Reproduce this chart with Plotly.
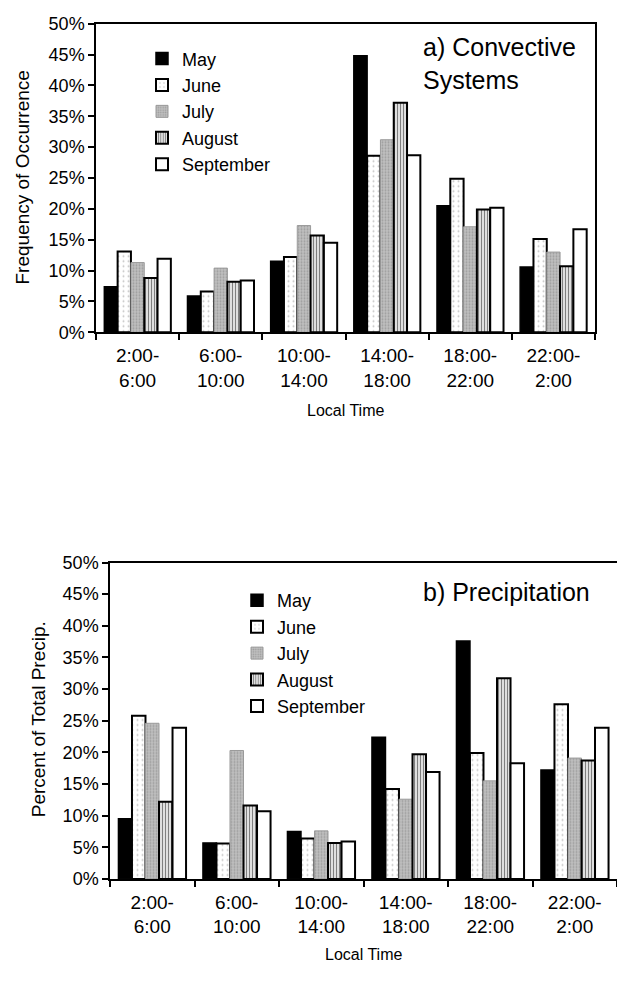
import plotly.graph_objects as go

categories = ["2:00-<br>6:00", "6:00-<br>10:00", "10:00-<br>14:00",
              "14:00-<br>18:00", "18:00-<br>22:00", "22:00-<br>2:00"]
months = ["May", "June", "July", "August", "September"]

# a) Convective systems: frequency of occurrence (%)
conv_may = [7.4, 5.9, 11.5, 44.8, 20.5, 10.6]
conv_jun = [13.1, 6.6, 12.2, 28.6, 24.9, 15.1]
conv_jul = [11.3, 10.4, 17.3, 31.2, 17.1, 13.0]
conv_aug = [8.8, 8.2, 15.7, 37.2, 19.9, 10.7]
conv_sep = [11.9, 8.4, 14.5, 28.7, 20.2, 16.7]

# b) Precipitation: percent of total precip (%)
prec_may = [9.5, 5.7, 7.5, 22.4, 37.6, 17.2]
prec_jun = [25.8, 5.6, 6.4, 14.2, 19.9, 27.6]
prec_jul = [24.6, 20.3, 7.6, 12.6, 15.5, 19.1]
prec_aug = [12.2, 11.6, 5.7, 19.7, 31.7, 18.7]
prec_sep = [23.9, 10.7, 5.9, 16.9, 18.3, 23.9]

conv = [conv_may, conv_jun, conv_jul, conv_aug, conv_sep]
prec = [prec_may, prec_jun, prec_jul, prec_aug, prec_sep]

FONT = "Liberation Sans, Arial, sans-serif"

styles = [
    dict(color="#000000", line=dict(color="#000000", width=1.5)),
    dict(color="#ffffff", line=dict(color="#000000", width=2),
         pattern=dict(shape=".", fgcolor="#8a8a8a", bgcolor="#ffffff", size=5, solidity=0.12)),
    dict(color="#bdbdbd", line=dict(color="#9a9a9a", width=1),
         pattern=dict(shape=".", fgcolor="#777777", bgcolor="#c0c0c0", size=3, solidity=0.35)),
    dict(color="#ffffff", line=dict(color="#000000", width=2),
         pattern=dict(shape="|", fgcolor="#000000", bgcolor="#ffffff", size=3, solidity=0.5)),
    dict(color="#ffffff", line=dict(color="#000000", width=2)),
]

fig = go.Figure()
for i, m in enumerate(months):
    fig.add_trace(go.Bar(x=categories, y=conv[i], name=m, marker=styles[i],
                         xaxis="x", yaxis="y", legend="legend"))
for i, m in enumerate(months):
    fig.add_trace(go.Bar(x=categories, y=prec[i], name=m, marker=styles[i],
                         xaxis="x2", yaxis="y2", legend="legend2"))

W, H = 617, 983
def px_x(v):
    return v / W
def px_y(v):
    return 1 - v / H

xcommon = dict(type="category", showline=True, linecolor="#000000", linewidth=1.5,
               ticks="outside", tickson="boundaries", ticklen=6, tickcolor="#000000",
               tickwidth=1.5, showgrid=False, zeroline=False, ticklabelstandoff=5,
               tickfont=dict(family=FONT, size=19, color="#000000"))
ycommon = dict(range=[0, 50], dtick=5, ticksuffix="%", showline=True,
               linecolor="#000000", linewidth=1.5, ticks="outside", ticklen=6,
               tickcolor="#000000", tickwidth=1.5, showgrid=False, zeroline=False,
               tickfont=dict(family=FONT, size=18, color="#000000"))

fig.update_layout(
    width=W, height=H,
    margin=dict(l=0, r=0, t=0, b=0),
    paper_bgcolor="#ffffff", plot_bgcolor="#ffffff",
    barmode="group", bargap=0.2, bargroupgap=0,
    font=dict(family=FONT, color="#000000"),
    xaxis=dict(domain=[px_x(96), px_x(595)], anchor="y", mirror=True, **xcommon),
    yaxis=dict(domain=[px_y(329), px_y(14)], anchor="x", mirror=True, **ycommon),
    xaxis2=dict(domain=[px_x(110), 1.0], anchor="y2", mirror=True, **xcommon),
    yaxis2=dict(domain=[px_y(887), px_y(564)], anchor="x2", mirror=False, **ycommon),
    legend=dict(x=px_x(142), y=px_y(31), xanchor="left", yanchor="top",
                bgcolor="rgba(0,0,0,0)", tracegroupgap=0,
                font=dict(family=FONT, size=18, color="#000000")),
    legend2=dict(x=px_x(237), y=px_y(584), xanchor="left", yanchor="top",
                 bgcolor="rgba(0,0,0,0)", tracegroupgap=0,
                 font=dict(family=FONT, size=18, color="#000000")),
    showlegend=True,
)

ann = [
    dict(text="a) Convective<br>Systems", x=px_x(421), y=px_y(55), xanchor="left",
         yanchor="middle", align="left", font=dict(size=25)),
    dict(text="b) Precipitation", x=px_x(421), y=px_y(594), xanchor="left", yanchor="middle",
         font=dict(size=25)),
    dict(text="Frequency of Occurrence", x=px_x(23), y=px_y(171), textangle=-90,
         xanchor="center", yanchor="middle", font=dict(size=19)),
    dict(text="Percent of Total Precip.", x=px_x(38), y=px_y(724), textangle=-90,
         xanchor="center", yanchor="middle", font=dict(size=19)),
    dict(text="Local Time", x=0.5, xref="x domain", y=px_y(409), xanchor="center",
         yanchor="middle", font=dict(size=16)),
    dict(text="Local Time", x=0.5, xref="x2 domain", y=px_y(964), xanchor="center",
         yanchor="middle", font=dict(size=16)),
]
for a in ann:
    a.setdefault("xref", "paper")
    a["yref"] = "paper"
    a["showarrow"] = False
    a["font"]["family"] = FONT
    a["font"]["color"] = "#000000"
    fig.add_annotation(**a)

fig.write_html("out.html")
